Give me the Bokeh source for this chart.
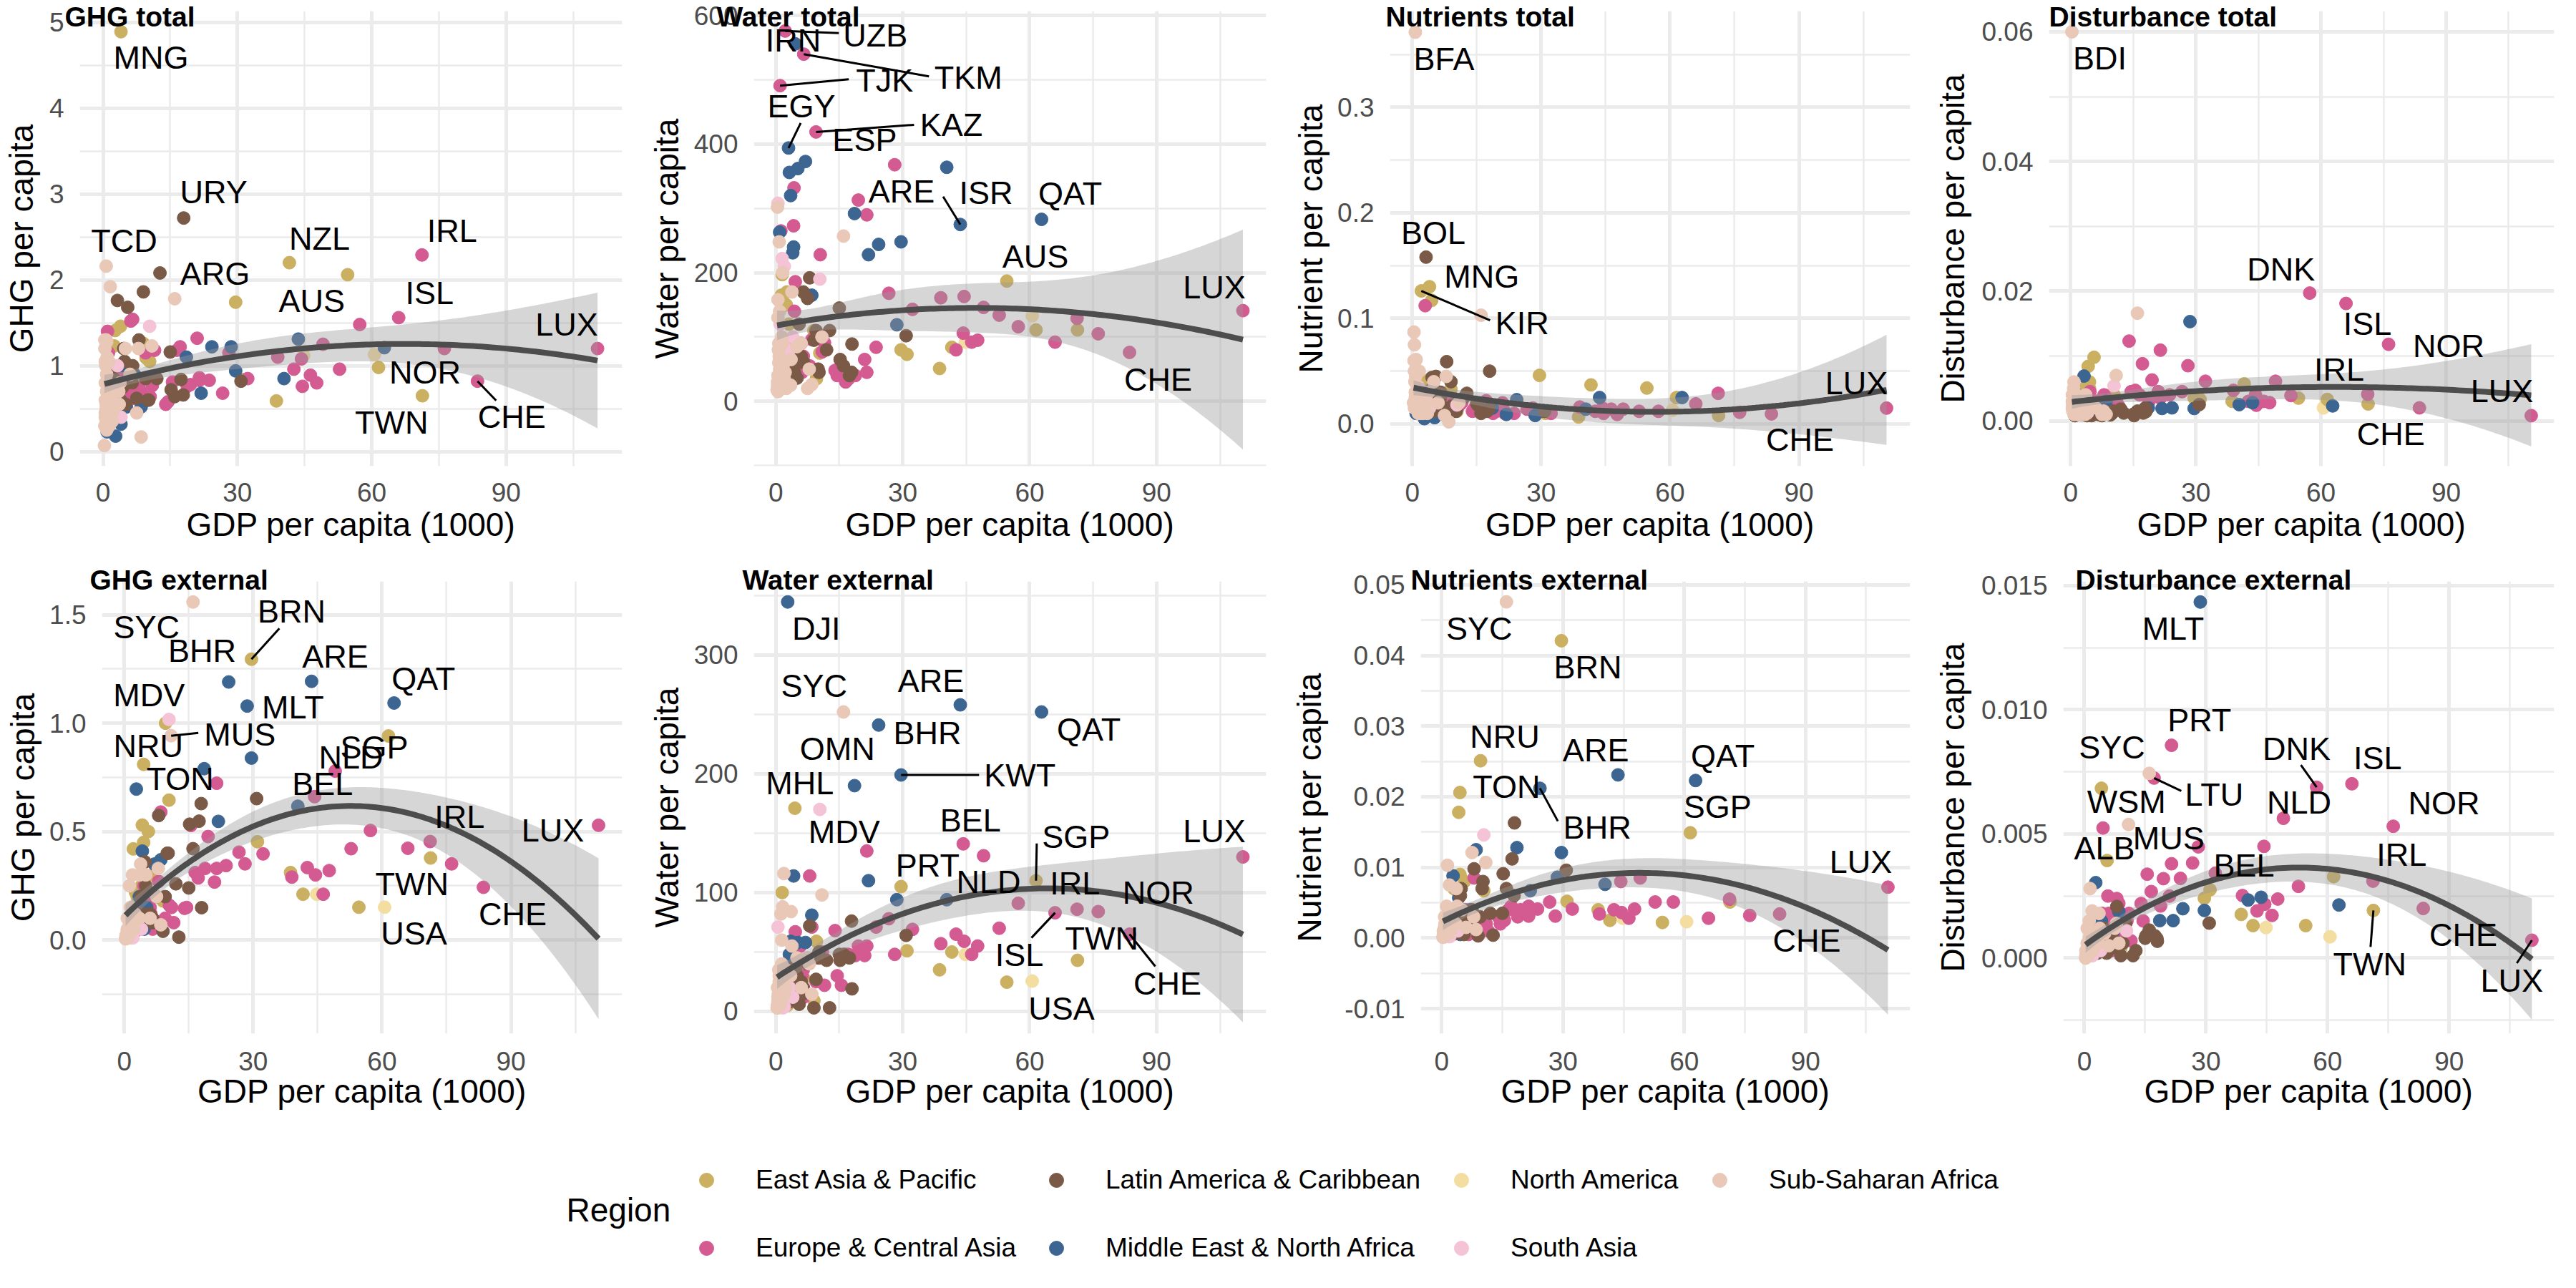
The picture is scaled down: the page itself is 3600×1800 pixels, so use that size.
import numpy as np
from bokeh.plotting import figure
from bokeh.models import (ColumnDataSource, FixedTicker, PrintfTickFormatter,
                          Label, Legend, LegendItem, Range1d)
from bokeh.layouts import column, row
from bokeh.core.properties import value
from bokeh.embed import file_html
from bokeh.resources import INLINE

FONT = "Liberation Sans"

# ---------------- data ----------------
REGIONS = ["East Asia & Pacific", "Europe & Central Asia", "Latin America & Caribbean",
           "Middle East & North Africa", "North America", "South Asia", "Sub-Saharan Africa"]
REGION_COLORS = ["#CBB062", "#D45A92", "#7A5A46", "#3D6592", "#F3DDA0", "#F4C3D5", "#E9C8B7"]

ISO_NAM = ["CAN", "USA"]
ISO_EAP = "KIR SLB PNG VUT TLS KHM LAO MMR VNM PHL IDN MNG TON WSM MHL FJI THA CHN NRU MYS BRN KOR JPN NZL AUS SGP TWN".split()
ISO_ECA = ("TJK KGZ UZB UKR MDA ARM AZE GEO ALB BIH MKD BLR SRB TKM MNE BGR KAZ TUR ROU RUS "
           "HRV POL HUN LVA LTU SVK GRC EST CZE PRT SVN CYP ESP ITA FRA GBR DEU BEL FIN AUT "
           "NLD SWE DNK ISL IRL NOR CHE LUX").split()
ISO_MENA = "YEM DJI EGY MAR TUN DZA JOR IRN IRQ LBY LBN OMN SAU BHR MLT KWT ISR ARE QAT".split()
ISO_LAC = ("HTI NIC HND BOL SLV GTM GUY BLZ JAM PRY ECU PER COL DOM SUR BRA MEX LCA GRD CRI "
           "ARG CHL PAN ATG TTO BRB URY BHS").split()
ISO_SAS = "AFG NPL PAK BGD IND BTN LKA MDV".split()
ISO_SSA = ("BDI CAF MWI SOM MOZ COD NER MDG SLE ERI TCD BFA LBR GMB TGO UGA RWA ETH SDN MLI "
           "GIN TZA GNB BEN LSO ZMB SEN COM CMR ZWE MRT KEN STP GHA NGA CIV COG AGO CPV SWZ "
           "NAM ZAF GAB BWA GNQ MUS SYC").split()

# GDP per capita (1000), blocks: NAM, EAP, ECA, MENA, LAC, SAS, SSA
GDP = [
    44.8, 60.6,
    2.1, 2.0, 2.7, 3.0, 1.5, 1.5, 2.5, 1.3, 2.6, 3.1, 3.9, 4.0, 4.5, 4.2, 4.5, 5.6, 6.6, 9.0, 9.6, 10.4,
    29.6, 31.0, 38.7, 41.6, 54.6, 61.5, 71.3,
    1.0, 1.2, 2.2, 3.0, 3.2, 4.2, 4.3, 4.4, 4.6, 5.8, 6.0, 6.2, 6.5, 6.6, 8.0, 8.5, 9.5, 10.5, 11.0, 11.5,
    14.0, 14.5, 15.5, 16.5, 17.2, 18.8, 19.5, 21.0, 21.5, 21.5, 23.7, 26.7, 28.1, 32.3, 39.0, 42.6, 44.5, 44.3, 46.3, 47.7,
    49.1, 52.8, 57.3, 66.0, 71.2, 76.2, 83.6, 110.4,
    0.9, 2.8, 3.0, 3.2, 3.5, 4.0, 4.2, 4.6, 5.2, 7.0, 8.5, 18.6, 21.9, 24.3, 28.6, 29.6, 40.4, 43.6, 62.8,
    1.0, 2.0, 2.4, 3.2, 3.9, 4.4, 4.6, 4.8, 5.0, 5.5, 6.0, 6.5, 6.6, 7.5, 8.0, 9.0, 9.5, 10.0, 10.2, 12.0,
    12.7, 15.0, 15.2, 16.0, 17.4, 17.9, 18.0, 30.8,
    0.5, 1.0, 1.5, 1.7, 2.0, 3.2, 4.0, 10.4,
    0.3, 0.4, 0.4, 0.4, 0.5, 0.5, 0.5, 0.5, 0.5, 0.6, 0.7, 0.7, 0.7, 0.7, 0.7, 0.7, 0.8, 0.8, 0.8, 0.9,
    0.9, 1.0, 0.8, 1.2, 1.2, 1.3, 1.4, 1.4, 1.5, 1.5, 1.6, 1.7, 1.9, 2.0, 2.0, 2.2, 2.5, 3.5, 3.6, 3.8,
    5.0, 6.0, 7.5, 7.9, 8.5, 10.9, 16.0,
]

GHG_TOTAL = [
    1.12, 1.13,
    0.36, 0.55, 1.41, 0.88, 0.45, 1.00, 1.23, 0.95, 0.62, 0.42, 1.46, 4.89, 0.85, 0.72, 0.78, 0.92, 0.88, 1.26, 1.09, 1.05,
    1.74, 0.84, 0.59, 2.20, 2.06, 0.98, 0.65,
    1.40, 1.15, 0.75, 0.95, 0.55, 0.60, 0.70, 0.85, 0.72, 0.60, 0.65, 1.52, 0.62, 1.54, 0.75, 0.70, 1.15, 0.64, 0.77, 1.18,
    0.55, 0.58, 0.81, 1.18, 1.22, 0.76, 0.78, 1.32, 0.83, 0.86, 0.83, 0.68, 1.15, 0.85, 1.10, 0.96, 0.76, 1.08, 0.89, 0.80,
    1.25, 0.96, 1.48, 1.56, 2.29, 1.20, 0.82, 1.20,
    0.23, 0.18, 0.45, 0.49, 0.55, 0.32, 0.50, 1.00, 0.52, 0.90, 0.52, 1.10, 0.68, 1.22, 1.22, 0.94, 0.85, 1.31, 1.21,
    0.50, 0.95, 0.85, 1.76, 0.60, 0.75, 1.20, 1.05, 0.55, 1.68, 0.90, 0.80, 1.00, 0.62, 1.30, 1.86, 0.85, 0.60, 0.60, 0.85,
    2.08, 1.16, 0.72, 0.64, 0.84, 0.66, 2.72, 0.82,
    0.30, 0.60, 0.70, 0.45, 0.55, 1.00, 0.40, 1.46,
    0.07, 1.30, 0.30, 1.20, 0.40, 0.60, 1.05, 0.80, 0.45, 1.00, 2.16, 1.30, 0.50, 0.55, 0.35, 0.60, 0.25, 0.90, 1.28, 1.10,
    0.55, 0.80, 0.70, 0.50, 0.65, 1.05, 0.40, 0.30, 0.60, 0.75, 1.92, 0.60, 0.35, 0.35, 0.45, 0.50, 0.55, 0.70, 0.55, 0.80,
    1.20, 0.90, 0.45, 1.20, 0.17, 1.23, 1.78,
]

WATER_TOTAL = [
    92, 133,
    40, 30, 25, 60, 80, 197, 150, 165, 170, 120, 95, 70, 55, 45, 50, 65, 169, 110, 35, 75,
    80, 73, 51, 84, 187, 111, 111,
    491, 265, 576, 75, 60, 273, 332, 140, 186, 50, 90, 45, 70, 540, 55, 96, 419, 228, 77, 91,
    48, 40, 57, 30, 35, 40, 313, 65, 45, 290, 84, 168, 368, 143, 161, 80, 163, 106, 92, 95,
    146, 134, 116, 92, 129, 105, 76, 141,
    263, 91, 394, 356, 320, 231, 240, 556, 362, 373, 165, 292, 228, 244, 119, 248, 364, 275, 283,
    30, 60, 55, 80, 40, 45, 75, 60, 36, 120, 70, 170, 60, 160, 192, 95, 110, 50, 45, 80,
    110, 145, 65, 55, 40, 45, 89, 102,
    308, 120, 222, 90, 210, 80, 100, 190,
    18, 30, 25, 302, 22, 15, 158, 130, 40, 80, 60, 90, 20, 80, 30, 25, 22, 60, 248, 140,
    50, 45, 70, 35, 30, 55, 100, 30, 40, 90, 200, 50, 25, 35, 60, 45, 20, 25, 65, 170,
    85, 90, 20, 50, 26, 100, 257,
]

NUTR_TOTAL = [
    0.012, 0.013,
    0.126, 0.020, 0.030, 0.040, 0.015, 0.020, 0.025, 0.020, 0.012, 0.010, 0.015, 0.130, 0.117, 0.043, 0.020, 0.030, 0.018, 0.033, 0.015, 0.012,
    0.046, 0.010, 0.0066, 0.037, 0.034, 0.025, 0.008,
    0.020, 0.025, 0.018, 0.112, 0.030, 0.020, 0.015, 0.020, 0.025, 0.015, 0.018, 0.030, 0.020, 0.015, 0.012, 0.020, 0.018, 0.015, 0.018, 0.020,
    0.012, 0.015, 0.018, 0.020, 0.022, 0.010, 0.012, 0.020, 0.010, 0.012, 0.010, 0.014, 0.015, 0.010, 0.016, 0.012, 0.010, 0.015, 0.014, 0.009,
    0.014, 0.012, 0.012, 0.019, 0.029, 0.011, 0.0095, 0.015,
    0.010, 0.005, 0.020, 0.015, 0.012, 0.008, 0.010, 0.012, 0.006, 0.010, 0.015, 0.015, 0.009, 0.023, 0.008, 0.012, 0.014, 0.025, 0.025,
    0.015, 0.030, 0.025, 0.158, 0.020, 0.025, 0.044, 0.035, 0.012, 0.045, 0.030, 0.025, 0.030, 0.015, 0.059, 0.040, 0.018, 0.012, 0.012, 0.025,
    0.029, 0.020, 0.018, 0.010, 0.012, 0.015, 0.050, 0.012,
    0.020, 0.030, 0.035, 0.020, 0.028, 0.025, 0.015, 0.018,
    0.020, 0.060, 0.020, 0.087, 0.020, 0.015, 0.075, 0.050, 0.020, 0.040, 0.060, 0.371, 0.015, 0.030, 0.020, 0.025, 0.020, 0.045, 0.052, 0.061,
    0.020, 0.030, 0.025, 0.020, 0.025, 0.030, 0.025, 0.010, 0.020, 0.030, 0.050, 0.025, 0.010, 0.015, 0.020, 0.015, 0.010, 0.010, 0.020, 0.030,
    0.040, 0.020, 0.008, 0.045, 0.002, 0.020, 0.103,
]

DIST_TOTAL = [
    0.0028, 0.0020,
    0.003, 0.004, 0.003, 0.005, 0.002, 0.003, 0.004, 0.003, 0.002, 0.002, 0.003, 0.004, 0.006, 0.0084, 0.005, 0.0098, 0.003, 0.003, 0.004, 0.004,
    0.0035, 0.0033, 0.003, 0.0057, 0.0035, 0.0033, 0.0026,
    0.002, 0.002, 0.0015, 0.003, 0.0035, 0.003, 0.002, 0.0035, 0.0045, 0.002, 0.003, 0.0025, 0.003, 0.0015, 0.004, 0.0035, 0.002, 0.0025, 0.003, 0.0023,
    0.0123, 0.0045, 0.0047, 0.004, 0.0088, 0.003, 0.0063, 0.0045, 0.0035, 0.0109, 0.004, 0.0045, 0.0085, 0.0061, 0.0047, 0.003, 0.0024, 0.004, 0.003, 0.0028,
    0.0061, 0.0039, 0.0197, 0.0181, 0.0041, 0.0118, 0.0020, 0.0008,
    0.0045, 0.001, 0.002, 0.0069, 0.003, 0.0015, 0.002, 0.0025, 0.001, 0.002, 0.003, 0.002, 0.0019, 0.002, 0.0153, 0.0019, 0.0025, 0.0028, 0.0023,
    0.0008, 0.0015, 0.001, 0.002, 0.0008, 0.001, 0.0015, 0.002, 0.0008, 0.0015, 0.0012, 0.001, 0.001, 0.0008, 0.0015, 0.0012, 0.0009, 0.0012, 0.0015, 0.0018,
    0.0012, 0.001, 0.0008, 0.0015, 0.0012, 0.002, 0.0014, 0.0025,
    0.002, 0.0015, 0.002, 0.001, 0.0015, 0.003, 0.0012, 0.0054,
    0.060, 0.003, 0.004, 0.002, 0.0025, 0.002, 0.0015, 0.003, 0.003, 0.002, 0.0015, 0.002, 0.003, 0.005, 0.0035, 0.004, 0.006, 0.003, 0.001, 0.0015,
    0.002, 0.003, 0.002, 0.0025, 0.002, 0.0015, 0.002, 0.004, 0.002, 0.0018, 0.001, 0.0035, 0.003, 0.0025, 0.0015, 0.002, 0.001, 0.001, 0.004, 0.003,
    0.002, 0.002, 0.001, 0.0015, 0.001, 0.007, 0.0166,
]

GHG_EXT = [
    0.211, 0.151,
    0.42, 0.10, 0.08, 0.20, 0.05, 0.10, 0.15, 0.05, 0.22, 0.15, 0.12, 0.25, 0.81, 0.53, 0.45, 0.50, 0.30, 0.18, 1.00, 0.645,
    1.295, 0.453, 0.311, 0.211, 0.151, 0.941, 0.378,
    0.02, 0.05, 0.03, 0.08, 0.15, 0.20, 0.05, 0.18, 0.25, 0.20, 0.15, 0.12, 0.10, 0.05, 0.27, 0.59, 0.10, 0.16, 0.15, 0.08,
    0.146, 0.15, 0.528, 0.311, 0.286, 0.33, 0.477, 0.267, 0.33, 0.723, 0.343, 0.405, 0.351, 0.397, 0.29, 0.334, 0.30, 0.661, 0.211, 0.32,
    0.779, 0.421, 0.505, 0.423, 0.454, 0.351, 0.243, 0.529,
    0.05, 0.696, 0.08, 0.12, 0.20, 0.10, 0.41, 0.05, 0.15, 0.35, 0.37, 0.79, 0.547, 1.19, 1.079, 0.839, 0.617, 1.193, 1.093,
    0.02, 0.05, 0.10, 0.06, 0.20, 0.12, 0.30, 0.36, 0.25, 0.10, 0.12, 0.08, 0.10, 0.20, 0.574, 0.04, 0.20, 0.40, 0.40, 0.259,
    0.013, 0.24, 0.534, 0.421, 0.548, 0.629, 0.149, 0.652,
    0.01, 0.02, 0.02, 0.01, 0.01, 0.10, 0.05, 1.017,
    0.005, 0.01, 0.01, 0.02, 0.02, 0.01, 0.01, 0.02, 0.02, 0.01, 0.01, 0.03, 0.04, 0.10, 0.05, 0.03, 0.02, 0.01, 0.03, 0.03,
    0.04, 0.02, 0.03, 0.08, 0.25, 0.04, 0.10, 0.15, 0.05, 0.05, 0.15, 0.05, 0.30, 0.08, 0.05, 0.05, 0.12, 0.10, 0.30, 0.35,
    0.30, 0.10, 0.20, 0.33, 0.07, 0.942, 1.559,
]

WATER_EXT = [
    48, 25.5,
    20, 10, 5, 35, 100, 15, 10, 5, 25, 20, 15, 30, 52, 40, 171, 55, 28, 9, 59, 45,
    105, 51, 35, 50, 24.6, 110, 43,
    10, 15, 8, 20, 35, 50, 25, 45, 67, 55, 40, 30, 35, 12, 114, 71, 25, 45, 50, 22,
    68, 30, 22, 48, 48, 47, 55, 47, 55, 135, 71, 78, 48, 69, 57, 65, 59, 141, 48, 55,
    131, 70, 91, 83, 86, 84, 65, 130,
    20, 344.6, 30, 48, 59, 40, 114, 15, 58, 58, 81, 190, 110, 241, 94, 199, 94, 258, 252,
    5, 10, 20, 8, 30, 15, 35, 40, 30, 6, 25, 20, 15, 40, 72, 3, 27, 45, 50, 43,
    3, 48, 43, 48, 45, 76, 19, 64,
    71, 5, 8, 3, 4, 20, 12, 170,
    3, 5, 4, 20, 6, 3, 8, 6, 12, 15, 6, 10, 18, 35, 20, 10, 12, 4, 25, 10,
    15, 7, 30, 30, 82, 10, 40, 60, 15, 12, 88, 15, 116, 25, 15, 20, 35, 30, 84, 55,
    45, 20, 45, 40, 14.5, 98, 252,
]

NUTR_EXT = [
    0.0028, 0.0023,
    0.004, 0.002, 0.001, 0.007, 0.002, 0.001, 0.001, 0.0005, 0.003, 0.002, 0.001, 0.003, 0.0206, 0.0178, 0.009, 0.008, 0.002, 0.001, 0.0251, 0.0067,
    0.0421, 0.0052, 0.004, 0.0025, 0.0022, 0.0149, 0.0051,
    0.0003, 0.0005, 0.0004, 0.001, 0.002, 0.003, 0.001, 0.002, 0.003, 0.004, 0.002, 0.003, 0.002, 0.0005, 0.0085, 0.003, 0.001, 0.002, 0.002, 0.001,
    0.003, 0.002, 0.0025, 0.004, 0.0045, 0.003, 0.004, 0.0035, 0.0031, 0.0045, 0.0041, 0.0051, 0.0031, 0.0041, 0.0034, 0.004, 0.0036, 0.008, 0.0028, 0.0041,
    0.0085, 0.0051, 0.0051, 0.0028, 0.0055, 0.0032, 0.0034, 0.0072,
    0.001, 0.0088, 0.001, 0.002, 0.004, 0.001, 0.0057, 0.0005, 0.002, 0.004, 0.0125, 0.0128, 0.0067, 0.0212, 0.0086, 0.0121, 0.0076, 0.0231, 0.0223,
    0.0005, 0.0008, 0.002, 0.0006, 0.004, 0.002, 0.006, 0.007, 0.004, 0.0005, 0.003, 0.002, 0.002, 0.004, 0.0098, 0.0003, 0.003, 0.007, 0.008, 0.0035,
    0.0004, 0.0035, 0.0091, 0.007, 0.0112, 0.006, 0.0163, 0.0096,
    0.0003, 0.0002, 0.0003, 0.0002, 0.0002, 0.002, 0.001, 0.0146,
    0.0001, 0.0002, 0.0002, 0.001, 0.0003, 0.0002, 0.0003, 0.0005, 0.0008, 0.001, 0.0003, 0.0005, 0.001, 0.003, 0.0015, 0.0006, 0.0008, 0.0003, 0.001, 0.0005,
    0.001, 0.0005, 0.002, 0.002, 0.0045, 0.0005, 0.0025, 0.0103, 0.0008, 0.001, 0.0035, 0.001, 0.0075, 0.0015, 0.0008, 0.001, 0.003, 0.002, 0.007, 0.0045,
    0.004, 0.0015, 0.0121, 0.003, 0.0012, 0.0107, 0.0476,
]

DIST_EXT = [
    0.00123, 0.00086,
    0.0005, 0.0006, 0.0004, 0.0015, 0.0003, 0.0005, 0.0006, 0.0002, 0.0008, 0.0005, 0.0004, 0.0007, 0.0014, 0.00684, 0.0012, 0.00393, 0.0009, 0.0004, 0.0010, 0.0015,
    0.00241, 0.00275, 0.00176, 0.00131, 0.00131, 0.00328, 0.00192,
    0.0002, 0.0003, 0.0002, 0.0006, 0.0012, 0.0015, 0.0006, 0.0018, 0.00524, 0.0025, 0.0018, 0.0012, 0.0016, 0.0003, 0.0024, 0.0022, 0.0008, 0.0015, 0.0018, 0.0007,
    0.0022, 0.0015, 0.00338, 0.00268, 0.00725, 0.0021, 0.0032, 0.0025, 0.0038, 0.00857, 0.00321, 0.00383, 0.00448, 0.00342, 0.00252, 0.0019, 0.00217, 0.0045, 0.00172, 0.00238,
    0.00563, 0.00289, 0.00688, 0.00702, 0.0031, 0.00531, 0.0020, 0.00072,
    0.0003, 0.00304, 0.0004, 0.0008, 0.0012, 0.0005, 0.0015, 0.0003, 0.0006, 0.0010, 0.00187, 0.00151, 0.00151, 0.00199, 0.01434, 0.00192, 0.00234, 0.00245, 0.00214,
    0.0001, 0.0002, 0.0004, 0.0002, 0.0008, 0.0005, 0.0008, 0.0012, 0.0008, 0.0002, 0.0006, 0.0004, 0.0004, 0.0007, 0.00208, 0.0001, 0.0006, 0.0012, 0.0014, 0.0001,
    0.0003, 0.0008, 0.0009, 0.00113, 0.0009, 0.00079, 0.00068, 0.00141,
    0.0001, 0.0001, 0.0001, 0.0001, 0.0001, 0.0006, 0.0003, 0.0011,
    0.0000, 0.0001, 0.0001, 0.0003, 0.0001, 0.0001, 0.0001, 0.0002, 0.0003, 0.0002, 0.0001, 0.0002, 0.0004, 0.0012, 0.0006, 0.0002, 0.0003, 0.0001, 0.0003, 0.0002,
    0.0004, 0.0002, 0.0006, 0.0008, 0.0015, 0.0002, 0.0009, 0.0028, 0.0003, 0.0004, 0.0010, 0.0004, 0.0019, 0.0005, 0.0003, 0.0004, 0.0008, 0.0006, 0.0018, 0.0012,
    0.0010, 0.0005, 0.0012, 0.0014, 0.0006, 0.00538, 0.00744,
]

PANEL_TITLES = ["GHG total", "Water total", "Nutrients total", "Disturbance total",
                "GHG external", "Water external", "Nutrients external", "Disturbance external"]
Y_LABELS = ["GHG per capita", "Water per capita", "Nutrient per capita", "Disturbance per capita"] * 2
X_LABEL = "GDP per capita (1000)"
LEGEND_TITLE = "Region"

# labelled countries: (iso, label dx px, label dy px (down), segment end offset px or None)
LABELS = [
    [("MNG", 42, 36, None), ("URY", 42, -36, None), ("TCD", 25, -35, None), ("ARG", 77, 1, None),
     ("NZL", 42, -34, None), ("AUS", -50, 37, None), ("IRL", 42, -34, None), ("ISL", 43, -34, None),
     ("LUX", -43, -34, None), ("NOR", -27, 33, None), ("TWN", -43, 37, None), ("CHE", 48, 50, (26, 27))],
    [("UZB", 126, 6, (75, 3)), ("IRN", -3, -5, None), ("TKM", 230, 33, (175, 31)), ("TJK", 146, -7, (96, -9)),
     ("EGY", 18, -58, (17, -35)), ("KAZ", 189, -10, (137, -10)), ("ESP", -42, -35, None),
     ("ARE", -82, -46, (-24, -39)), ("ISR", 55, 36, None), ("QAT", 40, -36, None), ("AUS", 40, -34, None),
     ("LUX", -40, -33, None), ("CHE", 40, 38, None)],
    [("BFA", 40, 37, None), ("BOL", 10, -34, None), ("MNG", 73, -14, None), ("KIR", 141, 45, (96, 41)),
     ("LUX", -42, -35, None), ("CHE", 40, 36, None)],
    [("BDI", 39, 37, None), ("DNK", -40, -33, None), ("ISL", 30, 28, None), ("NOR", 84, 2, None),
     ("IRL", -40, -34, None), ("LUX", -41, -34, None), ("CHE", -40, 37, None)],
    [("SYC", -65, 35, None), ("BRN", 56, -67, (39, -43)), ("BHR", -37, -44, None), ("ARE", 33, -35, None),
     ("QAT", 41, -34, None), ("MDV", -28, -34, None), ("MLT", 64, 2, None), ("MUS", 96, -2, (38, -4)),
     ("NRU", -24, 32, None), ("SGP", -20, 16, None), ("NLD", 22, -19, None), ("TON", 51, 20, None),
     ("BEL", 11, -18, None), ("IRL", 41, -35, None), ("LUX", -64, 7, None), ("TWN", -26, 36, None),
     ("USA", 41, 37, None), ("CHE", 41, 38, None)],
    [("DJI", 40, 37, None), ("SYC", -41, -36, None), ("ARE", -41, -34, None), ("QAT", 66, 25, None),
     ("BHR", 68, 11, None), ("OMN", -24, -51, None), ("KWT", 166, 0, (109, 0)), ("MHL", 7, -35, None),
     ("MDV", 34, 31, None), ("BEL", 10, -33, None), ("SGP", 56, -61, (1, -52)), ("PRT", 85, 20, None),
     ("NLD", 7, 37, None), ("IRL", -3, -36, None), ("NOR", 84, -26, None), ("LUX", -40, -36, None),
     ("TWN", 34, -31, None), ("ISL", -50, 59, (-33, 35)), ("CHE", 53, 69, (36, 45)), ("USA", 41, 38, None)],
    [("SYC", -38, 37, None), ("BRN", 37, 37, None), ("NRU", 34, -34, None), ("ARE", -31, -34, None),
     ("QAT", 38, -34, None), ("TON", 65, -8, None), ("BHR", 80, 55, (25, 46)), ("SGP", 38, -36, None),
     ("LUX", -38, -35, None), ("CHE", 38, 37, None)],
    [("MLT", -38, 37, None), ("PRT", 39, -35, None), ("SYC", -52, -36, None), ("LTU", 84, 23, (38, 18)),
     ("WSM", 35, 19, None), ("DNK", -28, -54, (-22, -31)), ("ISL", 36, -36, None), ("NLD", 22, -22, None),
     ("NOR", 71, -32, None), ("ALB", 2, 28, None), ("MUS", 56, 19, None), ("BEL", -28, 27, None),
     ("IRL", 40, -37, None), ("TWN", -5, 75, (-4, 51)), ("CHE", 56, 37, None), ("LUX", -28, 56, (-21, 32))],
]

# ---------------- assemble ----------------
BLOCKS = [("North America", ISO_NAM), ("East Asia & Pacific", ISO_EAP), ("Europe & Central Asia", ISO_ECA),
          ("Middle East & North Africa", ISO_MENA), ("Latin America & Caribbean", ISO_LAC),
          ("South Asia", ISO_SAS), ("Sub-Saharan Africa", ISO_SSA)]
ISO = [c for _, l in BLOCKS for c in l]
REGION = [r for r, l in BLOCKS for _ in l]
COLOR_OF = dict(zip(REGIONS, REGION_COLORS))
COLORS = [COLOR_OF[r] for r in REGION]
SERIES = [GHG_TOTAL, WATER_TOTAL, NUTR_TOTAL, DIST_TOTAL, GHG_EXT, WATER_EXT, NUTR_EXT, DIST_EXT]
for k, s in enumerate([GDP] + SERIES):
    if len(s) != len(ISO):
        raise ValueError(f"series {k} has {len(s)} values, expected {len(ISO)}")

X_RANGE = (-5.2, 115.9)
Y_RANGES = [(-0.17, 5.13), (-101, 607), (-0.040, 0.391), (-0.0070, 0.0632),
            (-0.432, 1.654), (-18.7, 361.9), (-0.01354, 0.0505), (-0.00304, 0.01517)]
Y_TICKS = [[0, 1, 2, 3, 4, 5], [0, 200, 400, 600], [0, 0.1, 0.2, 0.3], [0, 0.02, 0.04, 0.06],
           [0, 0.5, 1.0, 1.5], [0, 100, 200, 300], [-0.01, 0, 0.01, 0.02, 0.03, 0.04, 0.05],
           [0, 0.005, 0.010, 0.015]]
Y_MINOR = [[0.5, 1.5, 2.5, 3.5, 4.5], [-100, 100, 300, 500], [0.05, 0.15, 0.25, 0.35], [0.01, 0.03, 0.05],
           [-0.25, 0.25, 0.75, 1.25], [50, 150, 250, 350],
           [-0.005, 0.005, 0.015, 0.025, 0.035, 0.045], [-0.0025, 0.0025, 0.0075, 0.0125]]
Y_FMT = ["%d", "%d", "%.1f", "%.2f", "%.1f", "%d", "%.2f", "%.3f"]

# layout: (width, height, left, right, top, bottom, y-axis-label standoff, title offset, title standoff)
GEOM = [
    (892, 772, 111, 23, 15, 121, 10, -21, -59),
    (900, 772, 161, 23, 15, 121, 9, -52, -59),
    (900, 772, 150, 23, 15, 121, 8, -6, -59),
    (892, 772, 171, 15, 15, 121, 11, 0, -59),
    (892, 800, 142, 23, 40, 128, 8, -17, -39),
    (900, 800, 161, 23, 40, 128, 9, -16, -39),
    (900, 800, 193, 23, 40, 128, 20, -14, -39),
    (892, 800, 191, 15, 40, 128, 11, 17, -39),
]

T_975 = 1.9735


def quad_fit(x, y, xs):
    x = np.asarray(x, float)
    y = np.asarray(y, float)
    m, s = x.mean(), x.std()
    z = (x - m) / s
    X = np.column_stack([np.ones_like(z), z, z * z])
    beta, *_ = np.linalg.lstsq(X, y, rcond=None)
    res = y - X @ beta
    s2 = res @ res / (len(y) - 3)
    XtXi = np.linalg.inv(X.T @ X)
    zs = (xs - m) / s
    Xs = np.column_stack([np.ones_like(zs), zs, zs * zs])
    fit = Xs @ beta
    se = np.sqrt(np.einsum("ij,jk,ik->i", Xs, XtXi, Xs) * s2)
    return fit, fit - T_975 * se, fit + T_975 * se


def style_axes(p, i, g):
    xt = FixedTicker(ticks=[0, 30, 60, 90], minor_ticks=[15, 45, 75, 105])
    yt = FixedTicker(ticks=Y_TICKS[i], minor_ticks=Y_MINOR[i])
    p.xaxis.ticker = xt
    p.xgrid.ticker = xt
    p.yaxis.ticker = yt
    p.ygrid.ticker = yt
    p.yaxis.formatter = PrintfTickFormatter(format=Y_FMT[i])
    for ax in (p.xaxis[0], p.yaxis[0]):
        ax.axis_line_color = None
        ax.major_tick_line_color = None
        ax.minor_tick_line_color = None
        ax.major_tick_out = 0
        ax.major_tick_in = 0
        ax.minor_tick_out = 0
        ax.minor_tick_in = 0
        ax.major_label_text_font = FONT
        ax.major_label_text_font_size = "37px"
        ax.major_label_text_color = "#4D4D4D"
        ax.axis_label_text_font = FONT
        ax.axis_label_text_font_size = "46px"
        ax.axis_label_text_font_style = "normal"
        ax.axis_label_text_color = "black"
    p.xaxis.axis_label = X_LABEL
    p.yaxis.axis_label = Y_LABELS[i]
    p.yaxis.major_label_standoff = 22
    p.yaxis.axis_label_standoff = g[6]
    top = i < 4
    p.xaxis.major_label_standoff = 23 if top else 25
    p.xaxis.axis_label_standoff = 3 if top else 0
    for gr in (p.xgrid[0], p.ygrid[0]):
        gr.grid_line_color = "#EBEBEB"
        gr.grid_line_width = 5
        gr.minor_grid_line_color = "#EBEBEB"
        gr.minor_grid_line_width = 2.5


def make_panel(i):
    g = GEOM[i]
    yr = Y_RANGES[i]
    p = figure(width=g[0], height=g[1], x_range=Range1d(*X_RANGE), y_range=Range1d(*yr),
               title=PANEL_TITLES[i], toolbar_location=None, output_backend="svg",
               min_border_left=g[2], min_border_right=g[3], min_border_top=g[4], min_border_bottom=g[5],
               background_fill_color="white", border_fill_color="white", outline_line_color=None)
    p.title.align = "left"
    p.title.offset = g[7]
    p.title.standoff = g[8]
    p.title.text_font = FONT
    p.title.text_font_size = "39px"
    p.title.text_font_style = "bold"
    p.title.text_color = "black"
    style_axes(p, i, g)
    vals = SERIES[i]
    src = ColumnDataSource(dict(x=GDP, y=vals, color=COLORS))
    p.scatter("x", "y", source=src, size=18, fill_color="color", line_color="color", line_width=1)

    xs = np.linspace(min(GDP), max(GDP), 120)
    fit, lo, hi = quad_fit(GDP, vals, xs)
    p.varea(x=xs, y1=lo, y2=hi, fill_color="#999999", fill_alpha=0.4)
    p.line(xs, fit, line_color="#4D4D4D", line_width=8)

    fw = g[0] - g[2] - g[3]
    fh = g[1] - g[4] - g[5]
    sx = fw / (X_RANGE[1] - X_RANGE[0])
    sy = fh / (yr[1] - yr[0])
    lx, ly, lt, ldx, ldy = [], [], [], [], []
    sx0, sy0, sx1, sy1 = [], [], [], []
    for iso, dx, dy, seg in LABELS[i]:
        k = ISO.index(iso)
        x, y = GDP[k], vals[k]
        lx.append(x); ly.append(y); lt.append(iso); ldx.append(dx); ldy.append(dy)
        if seg is not None:
            sx0.append(x); sy0.append(y)
            sx1.append(x + seg[0] / sx); sy1.append(y - seg[1] / sy)
    if sx0:
        p.segment(x0=sx0, y0=sy0, x1=sx1, y1=sy1, line_color="black", line_width=3)
    lsrc = ColumnDataSource(dict(x=lx, y=ly, t=lt, dx=ldx, dy=ldy))
    p.text(x="x", y="y", text="t", x_offset="dx", y_offset="dy", source=lsrc,
           text_font=value(FONT), text_font_size=value("45px"), text_color="black",
           text_align="center", text_baseline="middle")
    return p


panels = [make_panel(i) for i in range(8)]

# ---------------- legend ----------------
LW, LH = 3584, 212
lf = figure(width=LW, height=LH, x_range=Range1d(0, LW), y_range=Range1d(0, LH),
            toolbar_location=None, output_backend="svg", x_axis_type=None, y_axis_type=None,
            min_border_left=0, min_border_right=0, min_border_top=0, min_border_bottom=0,
            outline_line_color=None, background_fill_color="white", border_fill_color="white")
rend = {}
for name, c in zip(REGIONS, REGION_COLORS):
    # legend key proxies, placed outside the visible range
    rend[name] = lf.scatter(x=[-1000], y=[-1000], size=20, fill_color=c, line_color=c)
LEG_COLS = [(962, [REGIONS[0], REGIONS[1]]), (1451, [REGIONS[2], REGIONS[3]]),
            (2017, [REGIONS[4], REGIONS[5]]), (2378, [REGIONS[6]])]
for x0, names in LEG_COLS:
    items = [LegendItem(label=n, renderers=[rend[n]]) for n in names]
    y0 = 15 if len(names) == 2 else 110
    leg = Legend(items=items, location=(x0, y0), orientation="vertical",
                 glyph_width=50, glyph_height=50, label_standoff=44, spacing=45,
                 padding=0, margin=0, border_line_color=None, background_fill_alpha=0,
                 label_text_font=FONT, label_text_font_size="37px", label_text_color="black",
                 label_height=50)
    lf.add_layout(leg)
lf.add_layout(Label(x=791, y=94, text=LEGEND_TITLE, text_font=FONT, text_font_size="46px",
                    text_color="black", text_align="left", text_baseline="middle"))

layout = column(row(*panels[:4]), row(*panels[4:]), lf)
open("out.html", "w").write(file_html(layout, INLINE))
